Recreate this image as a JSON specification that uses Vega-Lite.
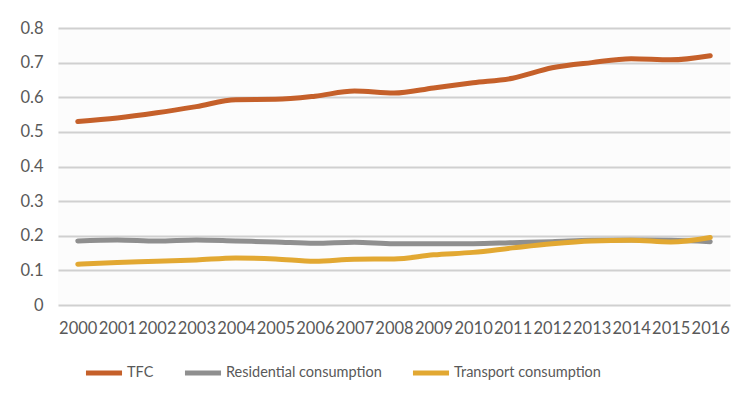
{
  "$schema": "https://vega.github.io/schema/vega-lite/v6.json",
  "width": 672,
  "height": 277,
  "autosize": {"type": "none"},
  "padding": {"left": 58, "top": 28, "right": 20, "bottom": 94},
  "background": "white",
  "config": {
    "view": {"stroke": null, "fill": "#FCFCFC"},
    "font": "Lato"
  },
  "data": {
    "values": [
      {"year": "2000", "series": "TFC", "value": 0.530},
      {"year": "2001", "series": "TFC", "value": 0.540},
      {"year": "2002", "series": "TFC", "value": 0.555},
      {"year": "2003", "series": "TFC", "value": 0.573},
      {"year": "2004", "series": "TFC", "value": 0.593},
      {"year": "2005", "series": "TFC", "value": 0.594},
      {"year": "2006", "series": "TFC", "value": 0.603},
      {"year": "2007", "series": "TFC", "value": 0.618},
      {"year": "2008", "series": "TFC", "value": 0.612},
      {"year": "2009", "series": "TFC", "value": 0.627},
      {"year": "2010", "series": "TFC", "value": 0.642},
      {"year": "2011", "series": "TFC", "value": 0.655},
      {"year": "2012", "series": "TFC", "value": 0.685},
      {"year": "2013", "series": "TFC", "value": 0.700},
      {"year": "2014", "series": "TFC", "value": 0.711},
      {"year": "2015", "series": "TFC", "value": 0.708},
      {"year": "2016", "series": "TFC", "value": 0.720},
      {"year": "2000", "series": "Residential consumption", "value": 0.185},
      {"year": "2001", "series": "Residential consumption", "value": 0.188},
      {"year": "2002", "series": "Residential consumption", "value": 0.185},
      {"year": "2003", "series": "Residential consumption", "value": 0.188},
      {"year": "2004", "series": "Residential consumption", "value": 0.185},
      {"year": "2005", "series": "Residential consumption", "value": 0.182},
      {"year": "2006", "series": "Residential consumption", "value": 0.178},
      {"year": "2007", "series": "Residential consumption", "value": 0.181},
      {"year": "2008", "series": "Residential consumption", "value": 0.177},
      {"year": "2009", "series": "Residential consumption", "value": 0.177},
      {"year": "2010", "series": "Residential consumption", "value": 0.177},
      {"year": "2011", "series": "Residential consumption", "value": 0.180},
      {"year": "2012", "series": "Residential consumption", "value": 0.183},
      {"year": "2013", "series": "Residential consumption", "value": 0.187},
      {"year": "2014", "series": "Residential consumption", "value": 0.188},
      {"year": "2015", "series": "Residential consumption", "value": 0.187},
      {"year": "2016", "series": "Residential consumption", "value": 0.183},
      {"year": "2000", "series": "Transport consumption", "value": 0.118},
      {"year": "2001", "series": "Transport consumption", "value": 0.123},
      {"year": "2002", "series": "Transport consumption", "value": 0.126},
      {"year": "2003", "series": "Transport consumption", "value": 0.130},
      {"year": "2004", "series": "Transport consumption", "value": 0.136},
      {"year": "2005", "series": "Transport consumption", "value": 0.133},
      {"year": "2006", "series": "Transport consumption", "value": 0.126},
      {"year": "2007", "series": "Transport consumption", "value": 0.132},
      {"year": "2008", "series": "Transport consumption", "value": 0.133},
      {"year": "2009", "series": "Transport consumption", "value": 0.145},
      {"year": "2010", "series": "Transport consumption", "value": 0.152},
      {"year": "2011", "series": "Transport consumption", "value": 0.165},
      {"year": "2012", "series": "Transport consumption", "value": 0.177},
      {"year": "2013", "series": "Transport consumption", "value": 0.185},
      {"year": "2014", "series": "Transport consumption", "value": 0.187},
      {"year": "2015", "series": "Transport consumption", "value": 0.182},
      {"year": "2016", "series": "Transport consumption", "value": 0.195}
    ]
  },
  "mark": {"type": "line", "strokeWidth": 5, "interpolate": "monotone", "strokeCap": "round"},
  "encoding": {
    "x": {
      "field": "year",
      "type": "ordinal",
      "scale": {"type": "point", "padding": 0.5},
      "axis": {
        "title": null,
        "labelAngle": 0,
        "ticks": false,
        "domain": false,
        "grid": false,
        "labelPadding": 15,
        "labelFontSize": 16.5,
        "labelColor": "#595959",
        "labelFont": "Lato"
      }
    },
    "y": {
      "field": "value",
      "type": "quantitative",
      "scale": {"domain": [0, 0.8], "nice": false},
      "axis": {
        "title": null,
        "values": [0, 0.1, 0.2, 0.3, 0.4, 0.5, 0.6, 0.7, 0.8],
        "format": ".1~f",
        "ticks": false,
        "domain": false,
        "gridColor": "#D0D0D0",
        "gridWidth": 2,
        "labelPadding": 15,
        "labelFontSize": 16.5,
        "labelColor": "#595959",
        "labelFont": "Lato"
      }
    },
    "color": {
      "field": "series",
      "type": "nominal",
      "scale": {
        "domain": ["TFC", "Residential consumption", "Transport consumption"],
        "range": ["#C5602A", "#8F8F8F", "#E2A832"]
      },
      "legend": {
        "title": null,
        "orient": "none",
        "direction": "horizontal",
        "legendX": 25,
        "legendY": 324,
        "symbolType": "stroke",
        "symbolStrokeWidth": 5,
        "symbolSize": 1300,
        "labelFontSize": 14.5,
        "labelColor": "#595959",
        "labelFont": "Lato",
        "labelOffset": 2,
        "labelLimit": 300,
        "columnPadding": 20
      }
    }
  }
}
